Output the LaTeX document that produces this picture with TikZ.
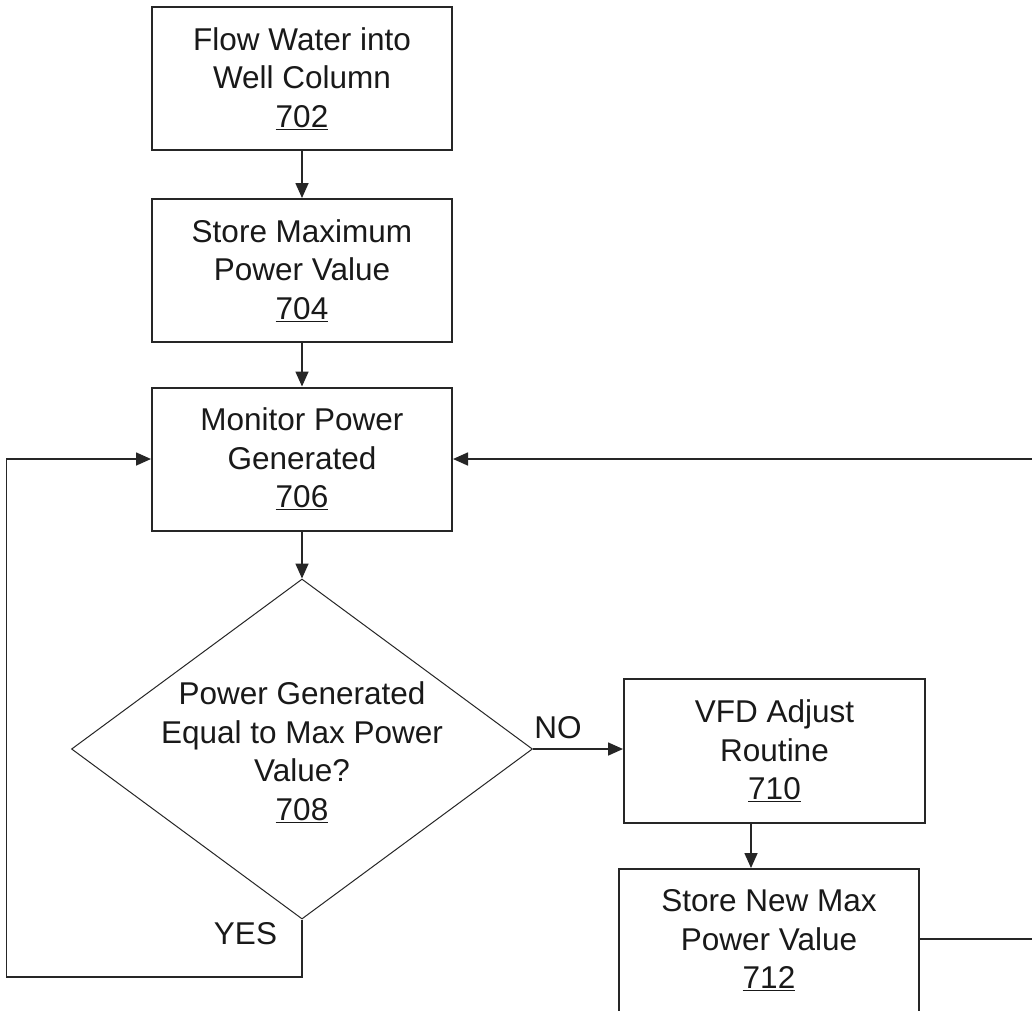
\documentclass[tikz,border=0pt]{standalone}
\usepackage{fontspec}
\setmainfont{Liberation Sans}
\usetikzlibrary{shapes.geometric,arrows.meta}
\begin{document}
\begin{tikzpicture}[x=1pt,y=-1pt,
  box/.style={draw=black!85, line width=2pt, minimum width=300pt, minimum height=143pt, align=center, inner sep=0pt, text=black!90, font=\fontsize{31.5}{38.5}\selectfont},
  dia/.style={draw=black!85, line width=1pt, shape=diamond, minimum width=461pt, minimum height=340pt, inner sep=0pt},
  lbl/.style={align=center, inner sep=0pt, text=black!90, font=\fontsize{31.5}{38.5}\selectfont},
  conn/.style={draw=black!85, line width=1.6pt},
  arr/.style={conn, -{Triangle[length=15pt,width=13pt]}}]
\clip (0,0) rectangle (1032,1010);
\fill[white] (0,0) rectangle (1032,1010);
\node[box] (a702) at (302,78.5) {Flow Water into\\Well Column\\\underline{702}};
\node[box] (a704) at (302,270.5) {Store Maximum\\Power Value\\\underline{704}};
\node[box] (a706) at (302,459) {Monitor Power\\Generated\\\underline{706}};
\node[dia] (d) at (302,749) {};
\node[lbl] (t708) at ([yshift=-3pt]d.center) {Power Generated\\Equal to Max Power\\Value?\\\underline{708}};
\node[box, minimum width=301pt, minimum height=144pt] (a710) at (774.5,751) {VFD Adjust\\Routine\\\underline{710}};
\node[box] (a712) at (769,940) {Store New Max\\Power Value\\\underline{712}};
\node[lbl] (no) at (558,728) {NO};
\node[lbl] (yes) at (245.5,934) {YES};
\coordinate (rt) at (1045,939);
\coordinate (rtop) at (1045,459);
\coordinate (lb) at (6.5,977);
\coordinate (lt) at (6.5,459);
\draw[arr] (a702.south) -- (a704.north);
\draw[arr] (a704.south) -- (a706.north);
\draw[arr] (a706.south) -- (d.north);
\draw[arr] (d.east) -- (d.east -| a710.west);
\draw[arr] (751,823) -- (751,868);
\draw[conn] (a712.east |- rt) -- (rt) -- (rtop);
\draw[arr] (rtop) -- (a706.east);
\draw[arr] (d.south) -- (d.south |- lb) -- (lb) -- (lt) -- (a706.west);
\end{tikzpicture}
\end{document}
